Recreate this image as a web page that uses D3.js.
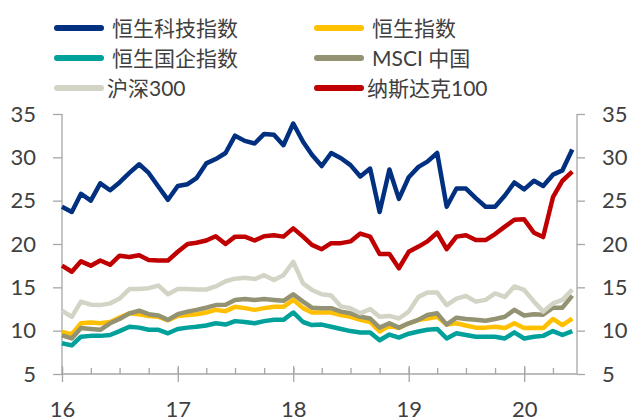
<!DOCTYPE html>
<html>
<head>
<meta charset="utf-8">
<script src="https://cdn.jsdelivr.net/npm/d3@7"></script>
<style>
  body { margin: 0; background: #fff; }
  svg text { font-family: Lato, "Noto Sans CJK SC", sans-serif; fill: #404040; }
</style>
</head>
<body>
<svg width="630" height="419"></svg>
<script>
// monthly points, Jan 2016 .. Jun 2020
const months = d3.timeMonth.range(new Date(2016, 0, 1), new Date(2020, 6, 1));

const hstech = [24.3,23.7,25.8,25.0,27.0,26.2,27.1,28.2,29.2,28.2,26.6,25.1,26.7,26.9,27.6,29.3,29.8,30.5,
  32.5,31.9,31.6,32.7,32.6,31.4,33.9,31.8,30.3,29.0,30.5,29.9,29.1,27.8,28.7,23.7,28.6,25.2,
  27.7,28.9,29.5,30.5,24.3,26.4,26.4,25.3,24.3,24.3,25.6,27.1,26.3,27.3,26.7,28.0,28.5,30.9];
const hsi = [9.85,9.6,10.85,10.95,10.85,11.0,11.5,12.0,11.9,11.7,11.6,11.2,11.7,11.8,11.9,12.1,12.4,12.25,
  12.75,12.6,12.4,12.6,12.75,12.75,13.55,12.6,12.1,12.1,12.1,11.8,11.6,11.25,11.0,9.9,10.6,10.3,
  10.85,11.25,11.4,11.6,10.7,10.85,10.6,10.35,10.35,10.45,10.3,10.85,10.3,10.35,10.3,11.35,10.65,11.4];
const hscei = [8.55,8.3,9.3,9.4,9.4,9.5,9.95,10.45,10.35,10.1,10.1,9.7,10.2,10.35,10.45,10.6,10.85,10.7,
  11.1,11.0,10.85,11.1,11.25,11.25,12.1,11.0,10.65,10.7,10.45,10.2,9.95,9.8,9.8,8.9,9.55,9.2,
  9.65,9.9,10.1,10.2,9.1,9.7,9.5,9.3,9.3,9.3,9.1,9.8,9.1,9.3,9.4,9.95,9.5,9.95];
const msci = [9.45,9.1,10.3,10.2,10.1,10.85,11.35,12.0,12.3,11.9,11.75,11.25,11.9,12.2,12.4,12.65,12.95,13.0,
  13.55,13.65,13.55,13.65,13.55,13.45,14.2,13.35,12.65,12.6,12.6,12.2,12.0,11.6,11.4,10.35,10.85,10.35,
  10.85,11.25,11.8,12.0,10.7,11.5,11.35,11.25,11.15,11.35,11.6,12.4,11.75,11.9,11.85,12.65,12.65,14.05];
const csi300 = [12.3,11.6,13.35,13.0,12.95,13.15,13.7,14.8,14.8,14.9,15.2,14.2,14.8,14.8,14.75,14.75,15.1,15.7,
  16.0,16.1,15.95,16.4,15.85,16.4,17.95,15.45,14.7,14.2,14.05,12.8,12.6,12.0,12.5,11.6,11.7,11.4,
  12.2,13.9,14.4,14.4,12.95,13.7,14.0,13.35,13.55,14.3,13.9,15.1,14.7,13.35,12.2,13.15,13.55,14.75];
const ndx100 = [17.5,16.8,18.0,17.5,18.1,17.6,18.65,18.5,18.7,18.15,18.1,18.1,19.1,20.0,20.15,20.4,20.9,20.0,
  20.85,20.85,20.4,20.9,21.0,20.85,21.8,20.85,19.9,19.4,20.1,20.1,20.3,21.2,20.85,18.85,18.85,17.2,
  19.1,19.7,20.3,21.3,19.4,20.85,21.0,20.45,20.45,21.15,22.0,22.8,22.85,21.3,20.8,25.4,27.3,28.35];

const seriesNames = ["恒生科技指数", "恒生指数", "恒生国企指数", "MSCI 中国", "沪深300", "纳斯达克100"];
const seriesValues = [hstech, hsi, hscei, msci, csi300, ndx100];
const seriesColors = ["#00307f", "#ffc000", "#00a09b", "#939272", "#d4d4c6", "#c00000"];

const yTicks = [5, 10, 15, 20, 25, 30, 35];

const svg = d3.select("svg");
const plotLeft = 62, plotRight = 577, plotTop = 114, plotBottom = 374;

const x = d3.scaleTime()
  .domain([new Date(2016, 0, 1), new Date(2020, 5, 16)])
  .range([plotLeft, plotRight]);
const y = d3.scaleLinear().domain([5, 35]).range([plotBottom, plotTop]);

// y axes
const yl = svg.append("g")
  .attr("transform", `translate(${plotLeft},0)`)
  .call(d3.axisLeft(y).tickValues(yTicks).tickSize(9).tickPadding(17));
const yr = svg.append("g")
  .attr("transform", `translate(${plotRight},0)`)
  .call(d3.axisRight(y).tickValues(yTicks).tickSize(8).tickPadding(17));

// x axis: quarter ticks inside, year ticks crossing
const xq = svg.append("g")
  .attr("transform", `translate(0,${plotBottom})`)
  .call(d3.axisBottom(x).ticks(d3.timeMonth.every(3)).tickSize(-6).tickFormat(""));
const xy = svg.append("g")
  .attr("transform", `translate(0,${plotBottom})`)
  .call(d3.axisBottom(x).ticks(d3.timeYear.every(1)).tickSize(8).tickPadding(19)
    .tickFormat(d3.timeFormat("%y")));
xy.selectAll(".tick line").attr("y1", -8);

[yl, yr, xq, xy].forEach(g => {
  g.selectAll(".domain").attr("stroke", "#a6a6a6").attr("stroke-width", 1.3);
  g.selectAll(".tick line").attr("stroke", "#a6a6a6").attr("stroke-width", 1.3);
  g.selectAll("text").attr("font-size", 22).attr("fill", "#404040")
    .style("font-family", "Lato, sans-serif");
});
yl.select(".domain").attr("d", `M0,${plotTop}V${plotBottom}`);
yr.select(".domain").attr("d", `M0,${plotTop}V${plotBottom}`);
xq.select(".domain").attr("d", `M${plotLeft},0H${plotRight}`);
xy.select(".domain").remove();

// lines
const line = d3.line()
  .x((d, i) => x(months[i]))
  .y(d => y(d));

svg.append("g")
  .selectAll("path")
  .data(seriesValues)
  .join("path")
  .attr("fill", "none")
  .attr("stroke", (d, i) => seriesColors[i])
  .attr("stroke-width", 4.5)
  .attr("stroke-linejoin", "round")
  .attr("d", line);

// legend
const legendPos = [[57, 28], [317, 28], [57, 58], [317, 58], [57, 88], [317, 88]];
const legend = svg.append("g")
  .selectAll("g")
  .data(seriesNames)
  .join("g")
  .attr("transform", (d, i) => `translate(${legendPos[i][0]},${legendPos[i][1]})`);

legend.append("line")
  .attr("x1", 0).attr("x2", 44)
  .attr("stroke", (d, i) => seriesColors[i])
  .attr("stroke-width", 6)
  .attr("stroke-linecap", "round");

legend.append("text")
  .attr("x", (d, i) => i >= 4 ? 50 : 55)
  .attr("dy", "0.36em")
  .attr("font-size", 21)
  .text(d => d);
</script>
</body>
</html>
